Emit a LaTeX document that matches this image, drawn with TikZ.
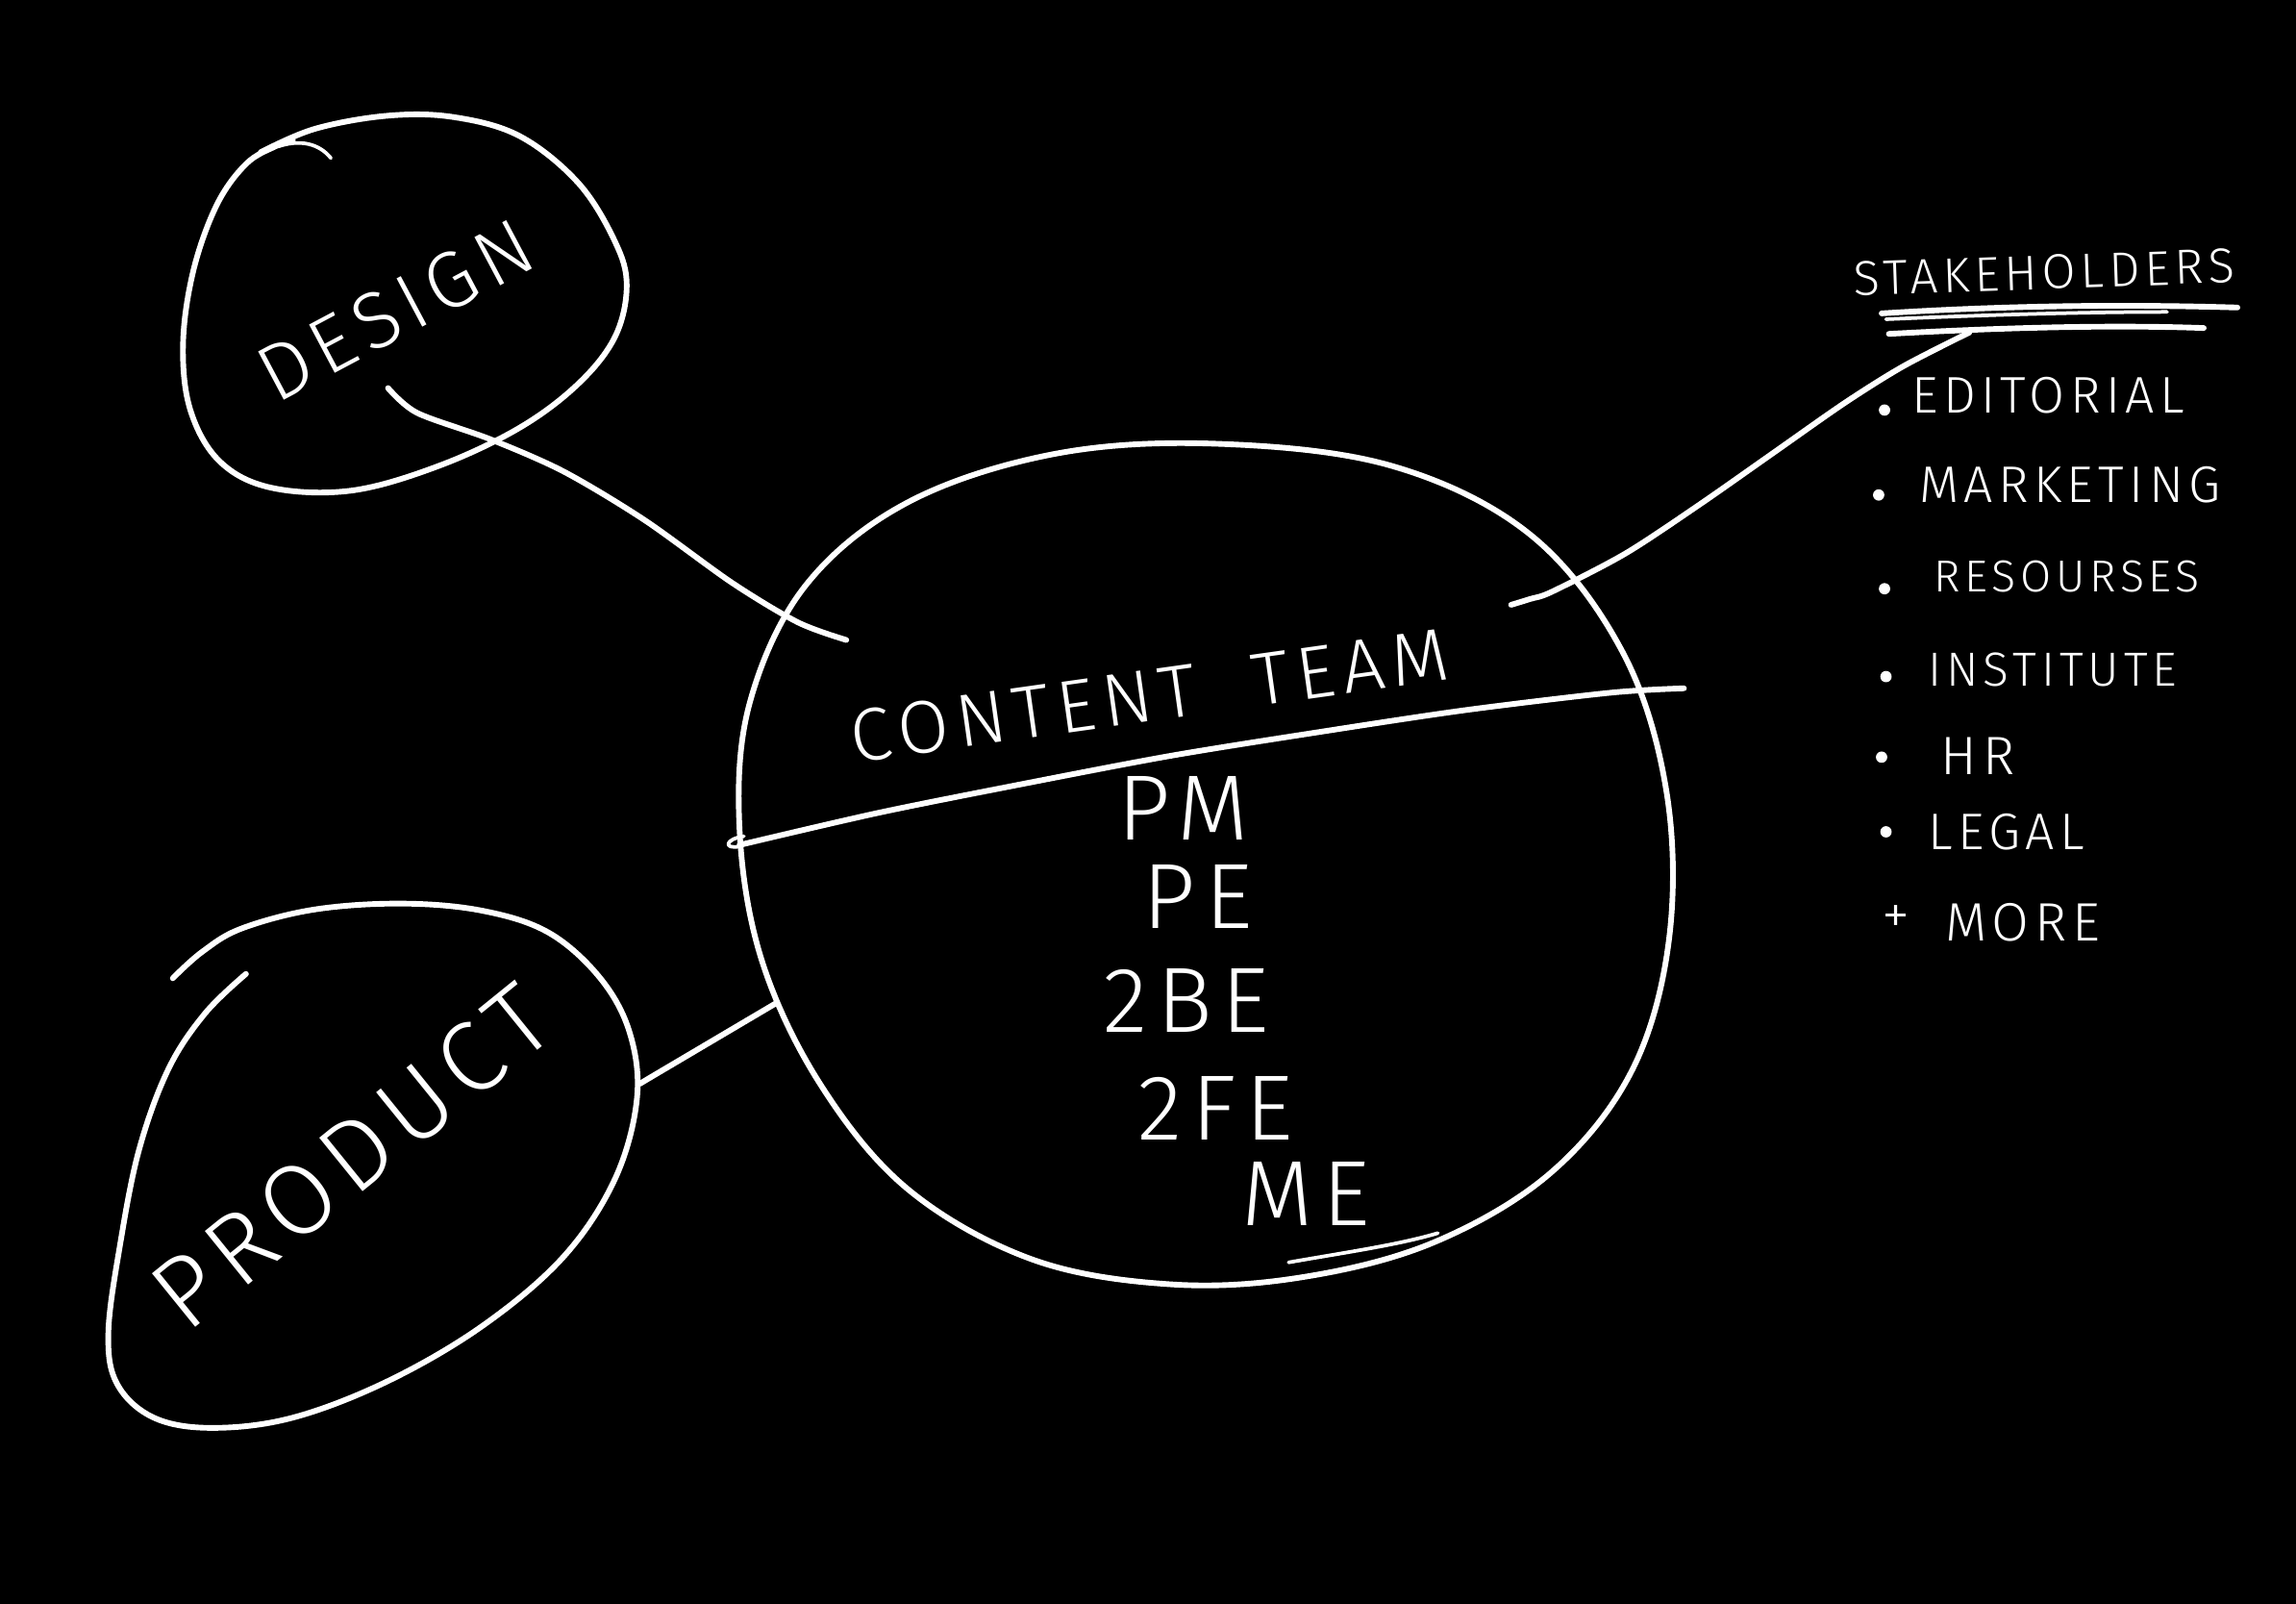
\documentclass[tikz,border=0pt]{standalone}
\usepackage{fontspec}
\IfFontExistsTF{Fira Sans Light}{\setmainfont{Fira Sans Light}}{\setmainfont{Fira Sans}}
\usepackage{xcolor}
\definecolor{board}{HTML}{000000}
\definecolor{chalk}{HTML}{FFFFFF}
\usepackage{tikz}
\usetikzlibrary{positioning,calc}
\tikzset{
  pen/.style={chalk, line width=1.1pt, line cap=round, line join=round},
  thinpen/.style={pen, line width=0.7pt},
  hand/.style={text=chalk, inner sep=0pt,
    font={\fontsize{#1}{#1}\selectfont\addfontfeatures{LetterSpace=10}}},
}

\begin{document}
\begin{tikzpicture}[x=0.01cm, y=-0.01cm]
  % Board
  \fill[board] (0,0) rectangle (1568,1095);
  \useasboundingbox (0,0) rectangle (1568,1095);
  % Design blob
  \draw[pen] plot[smooth, tension=0.6] coordinates {(178,104) (215,88) (265,79)
    (310,80) (355,93) (395,125) (420,165) (428,195) (420,230) (395,262) (355,292)
    (300,318) (240,335) (185,333) (150,315) (130,280) (125,235) (132,185)
    (148,140) (168,112) (188,100) (200,96)};
  \draw[thinpen] (190,100) .. controls (205,95) and (218,98) .. (226,108);
  \node[hand=15.5, rotate=28] (design) at (270,212) {DESIGN};
  % Product blob
  \draw[pen] plot[smooth, tension=0.6] coordinates {(168,665) (140,692) (115,730)
    (95,785) (82,850) (74,910) (80,945) (105,968) (145,975) (200,968) (265,943)
    (330,905) (385,858) (420,805) (435,750) (430,705) (410,668) (375,637)
    (330,622) (275,617) (215,621) (165,634) (138,650) (118,668)};
  \node[hand=19.5, rotate=39] (product) at (240,790) {PRODUCT};
  % Content team circle
  \draw[pen] plot[smooth cycle, tension=0.6] coordinates {(830,303) (950,318)
    (1045,365) (1108,445) (1138,540) (1140,640) (1115,730) (1060,800) (980,848)
    (890,872) (800,877) (705,860) (620,812) (560,740) (520,655) (505,565)
    (512,480) (550,400) (620,343) (720,310)};
  \draw[thinpen] (880,862) .. controls (920,855) and (955,850) .. (982,842);
  % Divider across the circle
  \draw[thinpen] (508,571) .. controls (495,573) and (494,580) .. (505,578);
  \draw[pen] plot[smooth, tension=0.5] coordinates {(505,577) (600,555) (700,535)
    (800,516) (900,500) (1000,485) (1100,473) (1150,470)};
  \node[hand=14.5, rotate=8] (team) at (785,475) {CONTENT\ \ TEAM};
  \foreach \x/\y/\txt [count=\i] in {808/552/PM, 818/612/PE, 810/683/2BE,
    830/757/2FE, 892/815/ME} {
    \node[hand=18] (member\i) at (\x,\y) {\txt};
  }
  % Connector ends
  \coordinate (designtail) at (265,265);
  \coordinate (teamtop) at (578,437);
  \coordinate (producttail) at (437,740);
  \coordinate (teamleft) at (530,685);
  \coordinate (teamright) at (1032,413);
  \coordinate (listhead) at (1345,227);
  % Connectors
  \draw[pen] plot[smooth, tension=0.5] coordinates {(designtail) (285,282)
    (335,300) (385,322) (440,355) (500,398) (545,425) (teamtop)};
  \draw[pen] (producttail) -- ++(5,-3) -- (teamleft);
  \draw[pen] plot[smooth, tension=0.5] coordinates {(teamright) (1045,409)
    (1060,404) (1110,378) (1160,345) (1210,310) (1260,275) (1300,250) (listhead)};
  % Stakeholders
  \node[hand=9.5, rotate=2] (stakeholders) at (1396,186) {STAKEHOLDERS};
  \draw[pen] (1285,214) .. controls (1380,208) and (1460,208) .. (1528,210);
  \draw[thinpen] (1288,218) .. controls (1380,214) and (1440,213) .. (1480,213);
  \draw[pen] (1290,228) .. controls (1380,223) and (1450,222) .. (1505,224);
  \foreach \mx/\my/\x/\y/\sz/\txt [count=\i] in {1287/280/1305/270/10/EDITORIAL,
    1283/338/1310/331/10/MARKETING, 1287/402/1320/394/8.7/RESOURSES,
    1288/462/1316/457/9.3/INSTITUTE, 1285/517/1325/516/10.5/HR,
    1288/568/1316/568/10/LEGAL} {
    \fill[chalk] (\mx,\my) circle (1.1pt);
    \node[hand=\sz, anchor=west] (item\i) at (\x,\y) {\txt};
  }
  \node[hand=11] (plus) at (1295,628) {+};
  \node[hand=10.5, anchor=west] (more) at (1328,630) {MORE};
\end{tikzpicture}
\end{document}
